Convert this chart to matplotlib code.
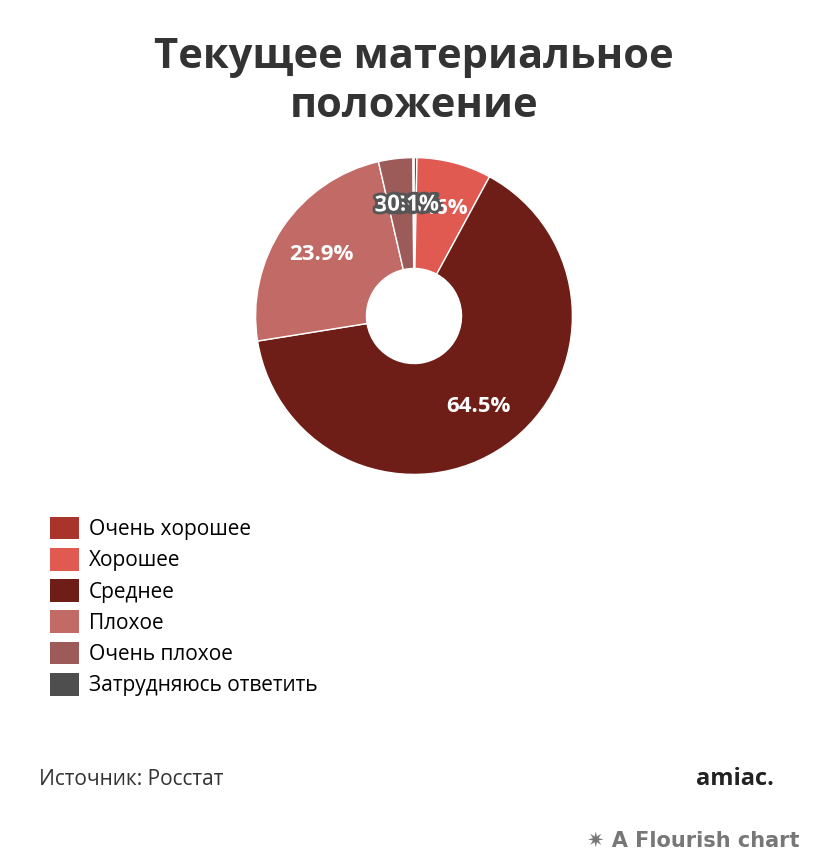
import matplotlib
matplotlib.use("Agg")
import matplotlib.pyplot as plt
import matplotlib.patheffects as pe
from matplotlib.patches import Patch
import numpy as np

categories = ["Очень хорошее", "Хорошее", "Среднее", "Плохое", "Очень плохое", "Затрудняюсь ответить"]
values = [0.3, 7.6, 64.5, 23.9, 3.5, 0.1]
colors = ["#a8342b", "#e05a52", "#6e1e16", "#c26b66", "#9c5a58", "#4e4e4e"]

fig = plt.figure(figsize=(8.28, 8.66), dpi=100)
fig.patch.set_facecolor("white")
fig.text(0.5, 0.905, "Текущее материальное\nположение", ha="center", va="center",
         fontsize=30, fontweight="bold", color="#333333", family="Open Sans", linespacing=1.25)

ax = fig.add_axes([414/828 - 160/828, 1 - (316 + 160)/866, 320/828, 320/866])
wedges, _ = ax.pie(values, colors=colors, startangle=90, counterclock=False,
                   radius=1.0, wedgeprops=dict(width=0.70, edgecolor="white", linewidth=1))
ax.set_aspect("equal")
ax.set_xlim(-1.01, 1.01); ax.set_ylim(-1.01, 1.01)

cum = 0
for v, w in zip(values, wedges):
    mid = np.deg2rad(90 - (cum + v / 2) * 3.6)
    cum += v
    r = 0.70
    ax.text(r * np.cos(mid), r * np.sin(mid), f"{v:.1f}%", ha="center", va="center",
            fontsize=16, fontweight="bold", color="white", family="Open Sans",
            path_effects=[pe.withStroke(linewidth=4, foreground="#555555")] if v < 5 else None)

handles = [Patch(facecolor=c, edgecolor="none") for c in colors]
fig.legend(handles, categories, loc="upper left", bbox_to_anchor=(0.038, 0.425),
           frameon=False, labelspacing=0.38, handlelength=1.4, handleheight=1.3,
           handletextpad=0.45, prop=dict(family="Open Sans", size=15))
fig.text(0.047, 0.093, "Источник: Росстат", fontsize=15, color="#333333", family="Open Sans")
fig.text(0.935, 0.093, "amiac.", fontsize=17, fontweight="bold", color="#222222", ha="right", family="Open Sans")
fig.text(0.965, 0.022, "✷ A Flourish chart", fontsize=15, fontweight="bold", color="#777777", ha="right", family="DejaVu Sans")
fig.savefig("out.png", dpi=100)
